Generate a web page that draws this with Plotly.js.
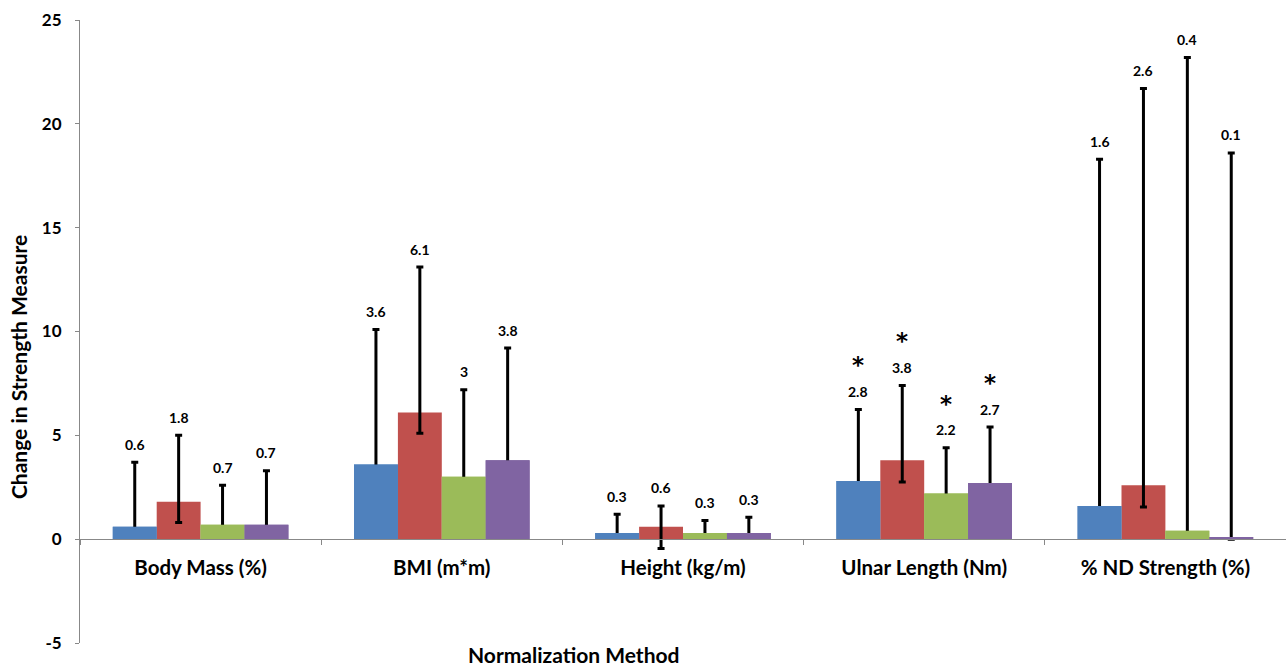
<!DOCTYPE html>
<html>
<head>
<meta charset="utf-8">
<script src="https://cdn.plot.ly/plotly-3.0.1.min.js"></script>
<style>html,body{margin:0;padding:0;background:#fff}#chart{width:1286px;height:666px}</style>
</head>
<body>
<div id="chart"></div>
<script>
// ---- data ----
const categories = ['Body Mass (%)', 'BMI (m*m)', 'Height (kg/m)', 'Ulnar Length (Nm)', '% ND Strength (%)'];
const seriesNames = ['Series 1', 'Series 2', 'Series 3', 'Series 4'];
const series1 = [0.6, 3.6, 0.3, 2.8, 1.6];
const series2 = [1.8, 6.1, 0.6, 3.8, 2.6];
const series3 = [0.7, 3.0, 0.3, 2.2, 0.4];
const series4 = [0.7, 3.8, 0.3, 2.7, 0.1];
const errPlus1 = [3.1, 6.5, 0.9, 3.45, 16.7];
const errPlus2 = [3.2, 7.0, 1.0, 3.6, 19.1];
const errMinus2 = [1.0, 1.0, 1.05, 1.05, 1.05];
const errPlus3 = [1.9, 4.2, 0.6, 2.2, 22.8];
const errPlus4 = [2.6, 5.4, 0.75, 2.7, 18.5];
const significant = [false, false, false, true, false];
const yTicks = [-5, 0, 5, 10, 15, 20, 25];

// ---- styling ----
const colors = ['#4F81BD', '#C0504D', '#9BBB59', '#8064A2'];
const FONT = 'Lato, "Open Sans", sans-serif';
const bargap = 0.272;

const values = [series1, series2, series3, series4];
const plus = [errPlus1, errPlus2, errPlus3, errPlus4];
const minus = [null, errMinus2, null, null];

// main bars with error bars; series without a lower error get a tiny hidden
// lower whisker whose cap sits inside the bar and is covered by a copy of the bar
const traces = values.map((v, j) => ({
  type: 'bar',
  name: seriesNames[j],
  x: categories,
  y: v,
  offsetgroup: 'g' + j,
  marker: {color: colors[j], line: {width: 0}},
  error_y: {
    type: 'data', symmetric: false, array: plus[j],
    arrayminus: minus[j] ? minus[j] : v.map(val => Math.min(0.15, val)),
    color: '#000', thickness: 3, width: 3.5, visible: true
  },
  hoverinfo: 'x+y'
}));
values.forEach((v, j) => {
  if (!minus[j]) {
    traces.push({
      type: 'bar', name: seriesNames[j], x: categories, y: v,
      offsetgroup: 'g' + j, showlegend: false,
      marker: {color: colors[j], line: {width: 0}}, hoverinfo: 'skip'
    });
  }
});

const nS = values.length;
const barW = (1 - bargap) / nS;
const annotations = [];
values.forEach((v, j) => {
  v.forEach((val, i) => {
    const xi = i + (j - (nS - 1) / 2) * barW;
    const top = val + plus[j][i];
    annotations.push({
      xref: 'x', yref: 'y', x: xi, y: top, text: String(val),
      showarrow: false, yanchor: 'middle', yshift: 18,
      font: {family: FONT, size: 14, color: '#000', weight: 'bold'}
    });
    if (significant[i]) {
      annotations.push({
        xref: 'x', yref: 'y', x: xi, y: top, text: '*',
        showarrow: false, yanchor: 'middle', yshift: 44,
        font: {family: '"DejaVu Sans", sans-serif', size: 23, color: '#000', weight: 'bold'}
      });
    }
  });
});
annotations.push({
  xref: 'paper', yref: 'paper', x: 0.4096, y: -0.018, text: 'Normalization Method',
  showarrow: false, xanchor: 'center', yanchor: 'middle',
  font: {family: FONT, size: 21, color: '#000', weight: 'bold'}
});
annotations.push({
  xref: 'paper', yref: 'paper', x: -0.0514, y: 0.443, text: 'Change in Strength Measure',
  showarrow: false, xanchor: 'center', yanchor: 'middle', textangle: -90,
  font: {family: FONT, size: 21, color: '#000', weight: 'bold'}
});

const layout = {
  width: 1286, height: 666,
  margin: {l: 80, r: 0, t: 20, b: 23},
  paper_bgcolor: '#fff', plot_bgcolor: '#fff',
  barmode: 'group', bargap: bargap, bargroupgap: 0,
  showlegend: false,
  font: {family: FONT, color: '#000'},
  xaxis: {
    type: 'category',
    anchor: 'free', position: 1 / 6,
    showline: true, linecolor: '#888', linewidth: 1,
    ticks: 'outside', tickson: 'boundaries', ticklen: 5, tickcolor: '#888', tickwidth: 1,
    ticklabelstandoff: 10,
    tickfont: {family: FONT, size: 20.5, color: '#000', weight: 'bold'},
    showgrid: false, zeroline: false
  },
  yaxis: {
    range: [-5, 25], tickvals: yTicks, ticktext: yTicks.map(String),
    showline: true, linecolor: '#888', linewidth: 1,
    ticks: 'outside', ticklen: 4, tickcolor: '#888', tickwidth: 1,
    ticklabelstandoff: 10,
    tickfont: {family: FONT, size: 17, color: '#000', weight: 'bold'},
    showgrid: false, zeroline: false
  },
  annotations: annotations
};

Plotly.newPlot('chart', traces, layout, {displayModeBar: false, staticPlot: true});
</script>
</body>
</html>
